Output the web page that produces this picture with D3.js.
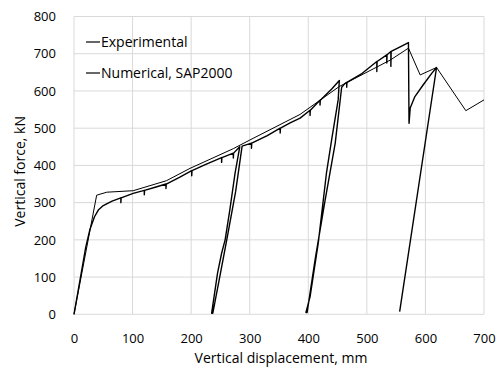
<!DOCTYPE html>
<html>
<head>
<meta charset="utf-8">
<script src="https://cdn.jsdelivr.net/npm/d3@7"></script>
<style>
  html, body { margin: 0; padding: 0; background: #fff; }
  svg { display: block; }
  text { font-family: "Open Sans", "Noto Sans", sans-serif; fill: #000; }
</style>
</head>
<body>
<script>
// Axis ticks
const xTicks = [0, 100, 200, 300, 400, 500, 600, 700];
const yTicks = [0, 100, 200, 300, 400, 500, 600, 700, 800];

// Experimental load–displacement record (mm, kN), with unloading/reloading cycles
const expDisp = [0, 10, 20, 27, 35, 41.5, 50, 65, 80, 80, 80.5, 101, 120, 120, 120.5, 140, 157, 157, 157.5, 180, 201, 201, 201.5,
  225, 252, 252, 252.5, 272, 272, 272.5, 283,
  275, 266, 258, 252, 245, 235, 237, 250, 262, 276, 287,
  303, 303, 303.5, 330, 352, 352, 352.5, 369, 386, 403, 403, 403.5, 420, 420, 420.5, 440, 453,
  451, 440, 431, 417, 403, 396, 398, 412, 428, 446, 457, 462,
  465.6, 465.6, 466, 490, 517, 517, 517.5, 534, 534, 534.5, 541, 541, 541.5, 556, 571,
  572, 574, 582, 596, 611, 619, 556];
const expForce = [0, 90, 180, 227, 262, 280, 292, 304, 313, 300, 313, 325, 333, 321, 333, 342, 350, 338, 350, 368, 386, 372, 386,
  403, 421, 408, 421, 433, 420, 433, 450,
  379, 280, 200, 164, 110, 3, 3, 110, 210, 330, 452,
  460, 446, 460, 480, 500, 487, 500, 514, 527, 548, 534, 548, 575, 562, 575, 605, 628,
  576, 470, 379, 191, 47, 5, 5, 150, 300, 460, 610, 619,
  623, 610, 623, 645, 679, 652, 679, 697, 675, 697, 706, 666, 706, 718, 730,
  513, 554, 585, 616, 648, 663, 7];

// Numerical model (SAP2000) response
const numDisp = [0, 38.7, 56, 101, 158, 198, 272, 300, 386, 453, 540, 571, 591, 619, 669, 700];
const numForce = [0, 320, 328, 332, 359, 392, 445, 468, 537, 612, 683, 715, 643, 663, 547, 576];

const seriesNames = ["Experimental", "Numerical, SAP2000"];

const W = 498, H = 369;
const plot = { left: 74, right: 484, top: 16.5, bottom: 314.3 };

const x = d3.scaleLinear().domain([0, 700]).range([plot.left, plot.right]);
const y = d3.scaleLinear().domain([0, 800]).range([plot.bottom, plot.top]);

const svg = d3.select("body").append("svg").attr("width", W).attr("height", H);

// Grid
const grid = svg.append("g").attr("stroke", "#d9d9d9").attr("stroke-width", 1);
grid.selectAll("line.gx").data(xTicks).join("line").attr("class", "gx")
  .attr("x1", d => x(d)).attr("x2", d => x(d)).attr("y1", plot.top).attr("y2", plot.bottom);
grid.selectAll("line.gy").data(yTicks).join("line").attr("class", "gy")
  .attr("x1", plot.left).attr("x2", plot.right).attr("y1", d => y(d)).attr("y2", d => y(d));

// Axes (labels only, lines come from the grid)
const xAxis = svg.append("g").attr("transform", `translate(0,${plot.bottom})`)
  .call(d3.axisBottom(x).tickValues(xTicks).tickSize(0).tickPadding(19));
xAxis.select(".domain").remove();
xAxis.selectAll("text").attr("font-size", 13).style("font-family", "'Open Sans', sans-serif");

const yAxis = svg.append("g").attr("transform", `translate(${plot.left},0)`)
  .call(d3.axisLeft(y).tickValues(yTicks).tickSize(0).tickPadding(18));
yAxis.select(".domain").remove();
yAxis.selectAll("text").attr("font-size", 13).style("font-family", "'Open Sans', sans-serif");

// Axis titles
svg.append("text").attr("x", (plot.left + plot.right) / 2 + 2).attr("y", 363)
  .attr("text-anchor", "middle").attr("font-size", 14).text("Vertical displacement, mm");
svg.append("text").attr("transform", `translate(25,${(plot.top + plot.bottom) / 2 + 6}) rotate(-90)`)
  .attr("text-anchor", "middle").attr("font-size", 14).text("Vertical force, kN");

// Curves
const line = d3.line().x(d => x(d[0])).y(d => y(d[1]));
const expData = expDisp.map((d, i) => [d, expForce[i]]);
const numData = numDisp.map((d, i) => [d, numForce[i]]);

svg.append("path").datum(numData).attr("d", line)
  .attr("fill", "none").attr("stroke", "#000").attr("stroke-width", 1).attr("stroke-linejoin", "round");
svg.append("path").datum(expData).attr("d", line)
  .attr("fill", "none").attr("stroke", "#000").attr("stroke-width", 1.4).attr("stroke-linejoin", "round");

// Legend
const legend = svg.append("g");
seriesNames.forEach((name, i) => {
  const ly = 42 + i * 31;
  legend.append("line").attr("x1", 86).attr("x2", 100).attr("y1", ly).attr("y2", ly)
    .attr("stroke", "#000").attr("stroke-width", 1.2);
  legend.append("text").attr("x", 101).attr("y", ly).attr("dy", "0.35em")
    .attr("font-size", 14).text(name);
});
</script>
</body>
</html>
